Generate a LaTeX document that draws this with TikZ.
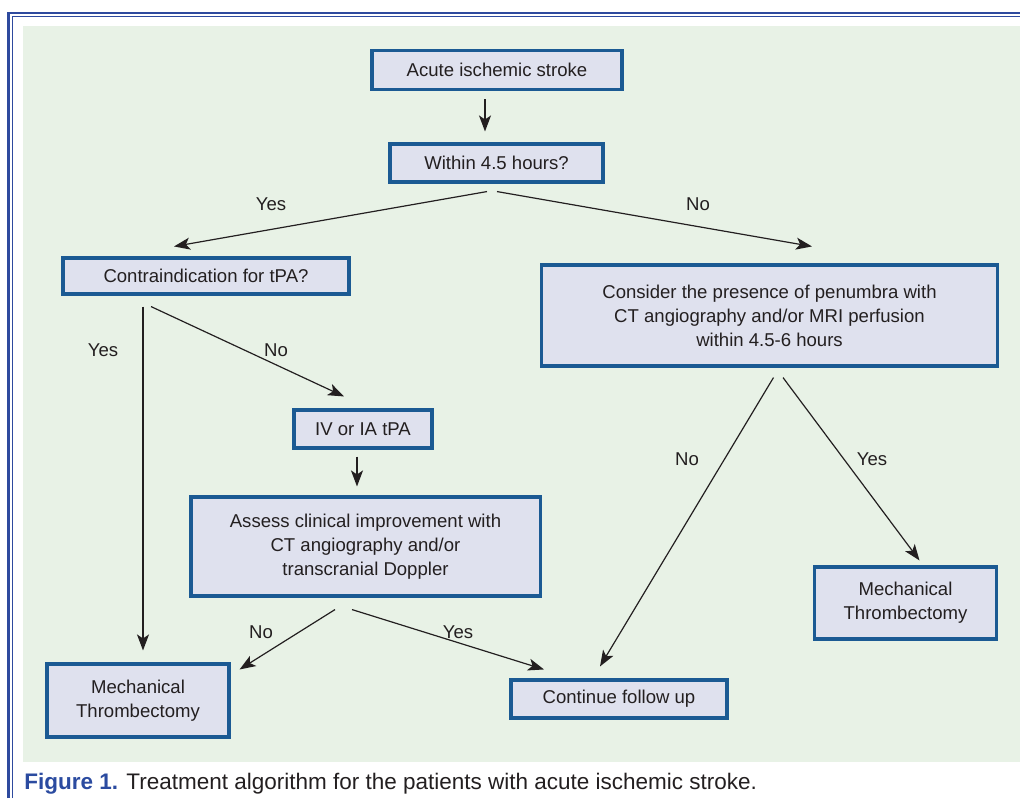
\documentclass[tikz,border=0pt]{standalone}
\usepackage{fontspec}
\setmainfont{Liberation Sans}
\usetikzlibrary{arrows.meta,calc}
\usepackage{xcolor}
\definecolor{cframe}{HTML}{2E4A9E}
\definecolor{cpanel}{HTML}{E8F2E6}
\definecolor{cbox}{HTML}{DFE1EE}
\definecolor{cborder}{HTML}{1B5A93}
\definecolor{ccaption}{HTML}{2B4BA0}
\definecolor{ctext}{HTML}{231F20}

\begin{document}
\begin{tikzpicture}[x=0.025cm, y=-0.025cm,
    font=\fontsize{13.2}{17}\selectfont, text=ctext,
    box/.style={draw=cborder, line width=2.2pt, fill=cbox,
      inner sep=0pt, align=center},
    lbl/.style={inner sep=0pt},
    arr/.style={-{Stealth[length=0.4cm, width=0.3cm, inset=0.1cm]}, line width=0.85pt, ctext}]
    \useasboundingbox (0,0) rectangle (1020,798);
    % frame and panel
    \fill[cpanel] (23,26) rectangle (1020,762);
    \draw[cframe, line width=2pt] (8.5,798) -- (8.5,13) -- (1020,13);
    \draw[cframe, line width=0.8pt] (12.5,798) -- (12.5,16.5) -- (1020,16.5);
    % boxes
    \node[box, minimum width=6.25cm, minimum height=0.975cm] (acute) at (497,70) {Acute ischemic stroke};
    \node[box, minimum width=5.325cm, minimum height=0.95cm] (within) at (496.5,163) {Within 4.5 hours?};
    \node[box, minimum width=7.15cm, minimum height=0.9cm] (contra) at (206,276) {Contraindication for tPA?};
    \node[box, minimum width=11.375cm, minimum height=2.525cm] (penumbra) at (769.5,315.5)
      {Consider the presence of penumbra with\\CT angiography and/or MRI perfusion\\within 4.5-6 hours};
    \node[box, minimum width=3.45cm, minimum height=0.95cm] (ivtpa) at (363,429) {IV or IA tPA};
    \node[box, minimum width=8.725cm, minimum height=2.475cm] (assess) at (365.5,546.5)
      {Assess clinical improvement with\\CT angiography and/or\\transcranial Doppler};
    \node[box, minimum width=4.55cm, minimum height=1.825cm] (mechL) at (138,700.5) {Mechanical\\Thrombectomy};
    \node[box, minimum width=5.4cm, minimum height=0.95cm] (follow) at (619,699) {Continue follow up};
    \node[box, minimum width=4.55cm, minimum height=1.8cm] (mechR) at (905.5,603) {Mechanical\\Thrombectomy};
    % labels
    \node[lbl] (yes1) at (271,204) {Yes};
    \node[lbl] (no1) at (698,204) {No};
    \node[lbl] (yes2) at (103,350) {Yes};
    \node[lbl] (no2) at (276,350) {No};
    \node[lbl] (no3) at (261,632) {No};
    \node[lbl] (yes3) at (458,632) {Yes};
    \node[lbl] (no4) at (687,459) {No};
    \node[lbl] (yes4) at (872,459) {Yes};
    % connectors
    \draw[arr] ($(acute.south)+(-12,8)$) -- ($(within.north)+(-11.5,-11)$);
    \draw[arr] ($(within.south)+(-9.5,8)$) -- ($(contra.north)+(-32,-10)$);
    \draw[arr] ($(within.south)+(0.5,8)$) -- ($(penumbra.north)+(42.5,-17)$);
    \draw[arr] ($(contra.south)+(-63,11)$) -- ($(mechL.north)+(5,-12)$);
    \draw[arr] ($(contra.south)+(-55,11)$) -- ($(ivtpa.north)+(-19,-12)$);
    \draw[arr] ($(ivtpa.south)+(-6,7)$) -- ($(assess.north)+(-8.5,-9)$);
    \draw[arr] ($(assess.south)+(-30.5,12)$) -- ($(mechL.north east)+(9,7)$);
    \draw[arr] ($(assess.south)+(-13.5,12)$) -- ($(follow.north)+(-75,-9)$);
    \draw[arr] ($(penumbra.south)+(4,10)$) -- ($(follow.north)+(-19,-12)$);
    \draw[arr] ($(penumbra.south)+(13.5,10)$) -- ($(mechR.north)+(14,-5)$);
    % caption
    \node[lbl, anchor=base west] (caption) at (24,789)
      {\fontsize{16}{19}\selectfont\textbf{\color{ccaption}Figure 1.} Treatment algorithm for the patients with acute ischemic stroke.};
  \end{tikzpicture}
\end{document}
